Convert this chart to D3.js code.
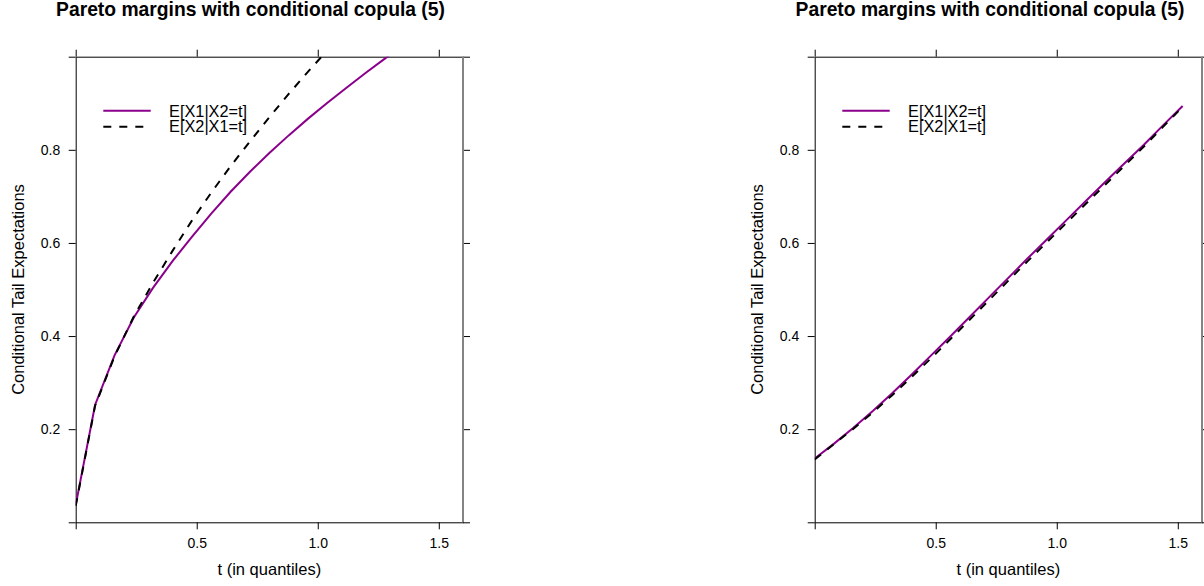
<!DOCTYPE html>
<html>
<head>
<meta charset="utf-8">
<script src="https://cdn.jsdelivr.net/npm/d3@7"></script>
<style>
  body { margin: 0; background: #fff; }
  svg { display: block; }
</style>
</head>
<body>
<svg id="chart" width="1204" height="586"></svg>
<script>
// quantile grid and conditional tail expectations
const tLeft = [0, 0.08, 0.16, 0.24, 0.32, 0.40, 0.48, 0.56, 0.64, 0.72, 0.80, 0.88, 0.96, 1.04, 1.12, 1.20, 1.28, 1.36];
const x1GivenX2Left = [0.037, 0.252, 0.358, 0.440, 0.504, 0.561, 0.613, 0.663, 0.710, 0.753, 0.793, 0.831, 0.867, 0.901, 0.934, 0.966, 0.997, 1.026];
const x2GivenX1Left = [0.035, 0.250, 0.356, 0.442, 0.515, 0.583, 0.648, 0.708, 0.765, 0.818, 0.870, 0.920, 0.968, 1.014, 1.060, 1.105, 1.150, 1.190];

const tRight = [0, 0.08, 0.16, 0.24, 0.32, 0.40, 0.48, 0.56, 0.64, 0.72, 0.80, 0.88, 0.96, 1.04, 1.12, 1.20, 1.28, 1.36, 1.44, 1.52];
const x1GivenX2Right = [0.137, 0.169, 0.203, 0.239, 0.277, 0.317, 0.358, 0.399, 0.441, 0.483, 0.525, 0.567, 0.608, 0.649, 0.690, 0.731, 0.771, 0.811, 0.853, 0.894];
const x2GivenX1Right = [0.135, 0.168, 0.201, 0.236, 0.273, 0.312, 0.352, 0.393, 0.435, 0.477, 0.519, 0.561, 0.602, 0.643, 0.684, 0.725, 0.766, 0.807, 0.850, 0.892];

const xTicks = [0, 0.5, 1, 1.5];
const xTickLabels = ["", "0.5", "1.0", "1.5"];
const yTicks = [0, 0.2, 0.4, 0.6, 0.8, 1];
const yTickLabels = ["", "0.2", "0.4", "0.6", "0.8", ""];
const legendLabels = ["E[X1|X2=t]", "E[X2|X1=t]"];

const title = "Pareto margins with conditional copula (5)",
    xLabel = "t (in quantiles)",
    yLabel = "Conditional Tail Expectations";

let font = "'Liberation Sans', Arial, Helvetica, sans-serif",
    purple = "#8b008b",
    plotTop = 56.7,
    plotBottom = 522.3,
    panelWidth = 387.3;

const svg = d3.select("#chart");

function zipSeries(ts, vs) {
    return ts.map((t, i) => ({t: t, v: vs[i]}));
}

function draw_panel(id, left, titleX, series) {
    let x = d3.scaleLinear().domain([0, 1.6]).range([left, left + panelWidth]),
        y = d3.scaleLinear().domain([0, 1]).range([plotBottom, plotTop]);

    let g = svg.append("g").attr("id", id);

    g.append("clipPath").attr("id", id + "-clip")
        .append("rect")
        .attr("x", x(0)).attr("y", y(1))
        .attr("width", x(1.6) - x(0)).attr("height", y(0) - y(1));

    // axes on all four sides, like the original frame
    let fmtX = d => xTickLabels[xTicks.indexOf(d)],
        fmtY = d => yTickLabels[yTicks.indexOf(d)];

    g.append("g").attr("transform", `translate(0,${y(0)})`)
        .call(d3.axisBottom(x).tickValues(xTicks).tickFormat(fmtX).tickSize(7).tickSizeOuter(0).tickPadding(9));
    g.append("g").attr("transform", `translate(0,${y(1)})`)
        .call(d3.axisTop(x).tickValues(xTicks).tickFormat("").tickSize(7).tickSizeOuter(0));
    g.append("g").attr("transform", `translate(${x(0)},0)`)
        .call(d3.axisLeft(y).tickValues(yTicks).tickFormat(fmtY).tickSize(7).tickSizeOuter(0).tickPadding(8.5));
    g.append("g").attr("transform", `translate(${x(1.6)},0)`)
        .call(d3.axisRight(y).tickValues(yTicks).tickFormat("").tickSize(7).tickSizeOuter(0));

    g.selectAll(".tick text").attr("font-family", font).attr("font-size", 14).attr("fill", "#000");
    g.selectAll(".domain, .tick line").attr("stroke", "#000").attr("stroke-width", 1);

    // grey line at the right edge of the plot
    g.append("line")
        .attr("x1", x(1.6)).attr("x2", x(1.6))
        .attr("y1", y(0)).attr("y2", y(1))
        .attr("stroke", "#848484").attr("stroke-width", 2);

    let line = d3.line().x(d => x(d.t)).y(d => y(d.v));

    g.append("g").attr("clip-path", `url(#${id}-clip)`)
        .selectAll("path")
        .data(series)
        .enter()
        .append("path")
        .attr("d", d => line(d.values))
        .attr("fill", "none")
        .attr("stroke", d => d.color)
        .attr("stroke-width", 2)
        .attr("stroke-dasharray", d => d.dash);

    // legend
    let leg = g.append("g").attr("transform", `translate(${x(0)},0)`);
    series.forEach(function (s, i) {
        leg.append("line")
            .attr("x1", 27.6).attr("x2", 75)
            .attr("y1", 110.7 + 16 * i).attr("y2", 110.7 + 16 * i)
            .attr("stroke", s.color).attr("stroke-width", 2)
            .attr("stroke-dasharray", s.dash);
        leg.append("text")
            .attr("x", 93.4).attr("y", 116.6 + 15.7 * i)
            .attr("font-family", font).attr("font-size", 16.3)
            .text(legendLabels[i]);
    });

    // titles
    g.append("text")
        .attr("x", titleX).attr("y", 16)
        .attr("text-anchor", "middle")
        .attr("font-family", font).attr("font-size", 19.3).attr("font-weight", "bold")
        .text(title);

    g.append("text")
        .attr("x", (x(0) + x(1.6)) / 2).attr("y", 575)
        .attr("text-anchor", "middle")
        .attr("font-family", font).attr("font-size", 16.5)
        .text(xLabel);

    g.append("text")
        .attr("transform", `translate(${x(0) - 51.5},${(plotTop + plotBottom) / 2}) rotate(-90)`)
        .attr("text-anchor", "middle")
        .attr("font-family", font).attr("font-size", 16.5)
        .text(yLabel);
}

draw_panel("left", 75.7, 250.5, [
    {values: zipSeries(tLeft, x1GivenX2Left), color: purple, dash: null},
    {values: zipSeries(tLeft, x2GivenX1Left), color: "#000", dash: "8,8"}
]);

draw_panel("right", 814.7, 990, [
    {values: zipSeries(tRight, x1GivenX2Right), color: purple, dash: null},
    {values: zipSeries(tRight, x2GivenX1Right), color: "#000", dash: "8,8"}
]);
</script>
</body>
</html>
